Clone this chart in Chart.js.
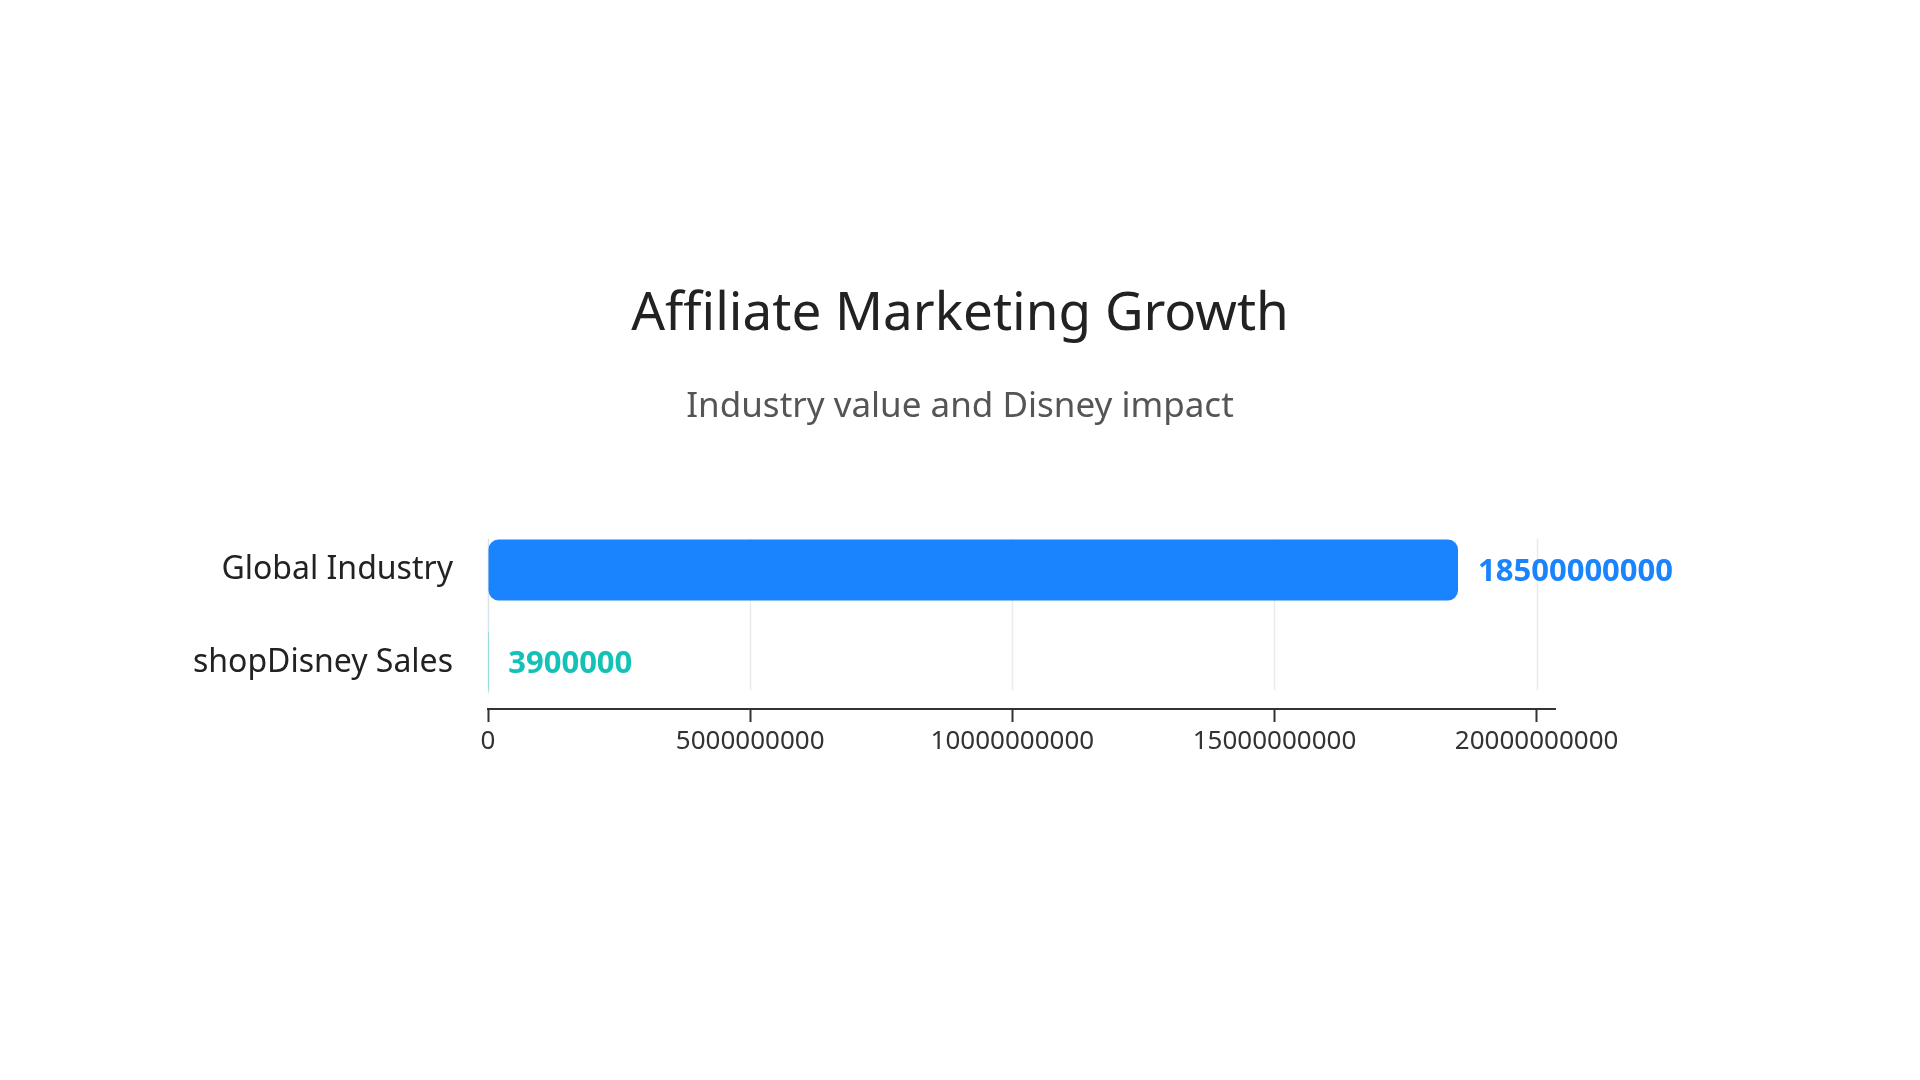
<!DOCTYPE html>
<html>
<head>
<meta charset="utf-8">
<title>Affiliate Marketing Growth</title>
<script src="https://cdn.jsdelivr.net/npm/chart.js@4.4.1/dist/chart.umd.min.js"></script>
<style>
  html, body { margin: 0; padding: 0; background: #fff; }
  #wrap { width: 1920px; height: 1080px; position: relative; }
</style>
</head>
<body>
<div id="wrap"><canvas id="chart"></canvas></div>
<script>
const categories = ['Global Industry', 'shopDisney Sales'];
const values = [18500000000, 3900000];
const barColors = ['#1a84ff', '#13c2b7'];
const xTickValues = [0, 5000000000, 10000000000, 15000000000, 20000000000];

const FONT = "'Noto Sans', 'Open Sans', sans-serif";

// light grid lines that stop short of the axis line
const gridPlugin = {
  id: 'gapGrid',
  beforeDatasetsDraw(chart) {
    const { ctx, chartArea, scales } = chart;
    ctx.save();
    ctx.lineWidth = 1.5;
    xTickValues.forEach((v, i) => {
      const x = Math.round(scales.x.getPixelForValue(v)) + 0.5;
      ctx.strokeStyle = i === 0 ? '#d3e6ea' : '#ebebeb';
      ctx.beginPath();
      ctx.moveTo(x, chartArea.top + 15);
      ctx.lineTo(x, chartArea.bottom - 19);
      ctx.stroke();
    });
    ctx.restore();
  }
};

// value labels at the end of each bar
const valueLabels = {
  id: 'valueLabels',
  afterDatasetsDraw(chart) {
    const { ctx } = chart;
    const meta = chart.getDatasetMeta(0);
    ctx.save();
    ctx.font = 'bold 31px ' + FONT;
    ctx.textAlign = 'left';
    ctx.textBaseline = 'middle';
    meta.data.forEach((bar, i) => {
      ctx.fillStyle = barColors[i];
      ctx.fillText(String(values[i]), bar.x + 20, bar.y + 2);
    });
    ctx.restore();
  }
};

new Chart(document.getElementById('chart'), {
  type: 'bar',
  data: {
    labels: categories,
    datasets: [{
      data: values,
      backgroundColor: barColors,
      barThickness: 61,
      borderRadius: 10,
      borderSkipped: false,
      inflateAmount: 0
    }]
  },
  options: {
    indexAxis: 'y',
    responsive: true,
    maintainAspectRatio: false,
    animation: false,
    layout: { padding: { top: 283, right: 0, bottom: 311, left: 0 } },
    plugins: {
      legend: { display: false },
      tooltip: { enabled: false },
      title: {
        display: true,
        text: 'Affiliate Marketing Growth',
        color: '#222',
        font: { family: FONT, size: 53, weight: 'normal' },
        padding: { top: 0, bottom: 0 }
      },
      subtitle: {
        display: true,
        text: 'Industry value and Disney impact',
        color: '#555',
        font: { family: FONT, size: 35, weight: 'normal' },
        padding: { top: 39, bottom: 96 }
      }
    },
    scales: {
      x: {
        type: 'linear',
        min: 0,
        max: 20350000000,
        afterBuildTicks: scale => {
          scale.ticks = xTickValues.map(v => ({ value: v }));
        },
        afterFit: scale => { scale.height = 60; },
        grid: {
          drawOnChartArea: false,
          drawTicks: true,
          tickLength: 13,
          tickColor: '#333',
          tickWidth: 2
        },
        border: { display: true, color: '#333', width: 2 },
        ticks: {
          color: '#333',
          padding: 4,
          font: { family: FONT, size: 26 },
          callback: v => String(v)
        }
      },
      y: {
        type: 'category',
        offset: true,
        afterFit: scale => { scale.width = 488; },
        grid: { display: false, drawTicks: false },
        border: { display: false },
        ticks: {
          color: '#222',
          padding: 35,
          font: { family: FONT, size: 32 }
        }
      },
      // empty right-hand axis that only reserves the right margin
      spacer: {
        type: 'linear',
        position: 'right',
        display: true,
        afterFit: scale => { scale.width = 365; },
        grid: { display: false },
        border: { display: false },
        ticks: { display: false }
      }
    }
  },
  plugins: [gridPlugin, valueLabels]
});
</script>
</body>
</html>
